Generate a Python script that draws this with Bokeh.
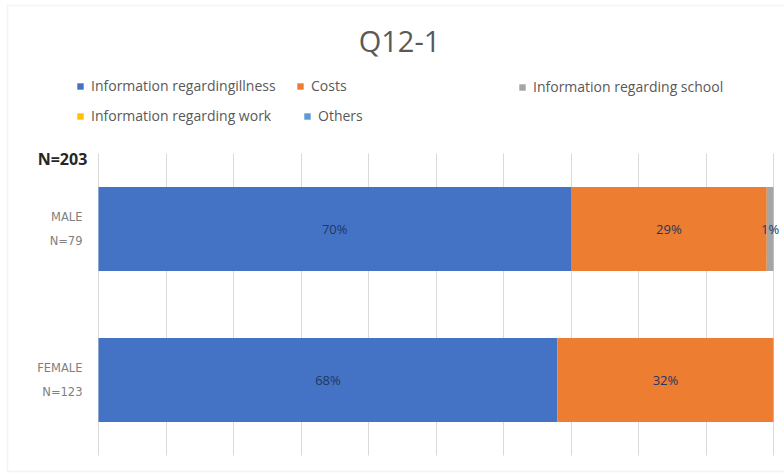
from bokeh.plotting import figure
from bokeh.models import (ColumnDataSource, Legend, LegendItem, Label, LabelSet,
                          Range1d, FixedTicker, BoxAnnotation)
from bokeh.core.properties import value
from bokeh.embed import file_html
from bokeh.resources import INLINE

# ---- data ----
groups = ["FEMALE\nN=123", "MALE\nN=79"]
series = ["Information regardingillness", "Costs", "Information regarding school",
          "Information regarding work", "Others"]
illness = [0.68, 0.70]
costs = [0.32, 0.29]
school = [0.00, 0.01]
work = [0.00, 0.00]
others = [0.00, 0.00]
colors = ["#4472C4", "#ED7D31", "#A5A5A5", "#FFC000", "#5B9BD5"]
title_text = "Q12-1"
total_label = "N=203"
grid_ticks = [i / 10 for i in range(11)]

# ---- layout helpers (page pixels -> data units) ----
W, H = 784, 474
X0, X1 = 98.0, 773.0          # pixel span of 0..100 %
Y_FIRST, Y_STEP = 379.5, 151.0  # pixel centre of first group, pixel spacing


def px(xp):
    return (xp - X0) / (X1 - X0)


def py(yp):
    return (Y_FIRST - yp) / Y_STEP


keys = ["illness", "costs", "school", "work", "others"]
pos = list(range(len(groups)))
src = ColumnDataSource(dict(pos=pos, group=groups, illness=illness, costs=costs,
                            school=school, work=work, others=others))

p = figure(width=W, height=H, output_backend="svg", toolbar_location=None, title=None,
           x_range=Range1d(px(0), px(W)), y_range=Range1d(py(H), py(0)),
           min_border=0, min_border_left=0, min_border_right=0,
           min_border_top=0, min_border_bottom=0)
p.outline_line_color = None
p.background_fill_color = "white"
p.border_fill_color = "white"
p.xaxis.visible = False
p.yaxis.visible = False

# chart border
p.add_layout(BoxAnnotation(left=px(7), right=px(W + 20), top=py(5), bottom=py(471),
                           fill_alpha=0, line_color="#d9d9d9", line_width=1.5))

# grid
p.xgrid.ticker = FixedTicker(ticks=grid_ticks)
p.xgrid.grid_line_color = "#d9d9d9"
p.xgrid.cross_bounds = (py(455), py(153))
p.ygrid.grid_line_color = None

rs = p.hbar_stack(keys, y="pos", height=0.556, color=colors, source=src, line_color=None)

# category labels
p.text(x=px(82), y="pos", text="group", source=src, text_align="right",
       text_baseline="middle", text_font_size="11.5px", text_color="#808080",
       text_font=value("DejaVu Sans"), text_line_height=1.7)

# value labels
cum = [0.0] * len(groups)
lab_x, lab_y, lab_t = [], [], []
for vals in [illness, costs, school, work, others]:
    for i, v in enumerate(vals):
        if v > 0:
            lab_x.append(cum[i] + v / 2)
            lab_y.append(pos[i])
            lab_t.append(f"{round(v * 100)}%")
        cum[i] += v
lsrc = ColumnDataSource(dict(x=lab_x, y=lab_y, t=lab_t))
p.add_layout(LabelSet(x="x", y="y", text="t", source=lsrc, text_align="center",
                      text_baseline="middle", text_font_size="13px", text_color="#203864",
                      text_font=value("Open Sans")))

# legends: one per entry, placed like the original
LEG_H = 16
legend_spots = [(76, 87), (296, 87), (518, 88), (76, 117), (303, 117)]
for j, (lx, ly) in enumerate(legend_spots):
    lg = Legend(items=[LegendItem(label=series[j], renderers=[rs[j]])],
                location=(lx, H - (ly + LEG_H / 2)), border_line_color=None,
                background_fill_alpha=0, label_text_font_size="14px",
                label_text_color="#595959", label_text_font="Open Sans",
                glyph_width=8, glyph_height=8, label_height=LEG_H, label_standoff=7,
                spacing=0, padding=0, margin=0)
    p.add_layout(lg, "center")

p.add_layout(Label(x=px(62), y=py(158), text=total_label, text_align="center",
                   text_baseline="middle", text_font="Open Sans", text_font_size="16px",
                   text_color="#262626", text_font_style="bold"))
p.add_layout(Label(x=px(399), y=py(40), text=title_text, text_align="center",
                   text_baseline="middle", text_font="Open Sans", text_font_size="29px",
                   text_color="#595959"))

open("out.html", "w").write(file_html(p, INLINE))
